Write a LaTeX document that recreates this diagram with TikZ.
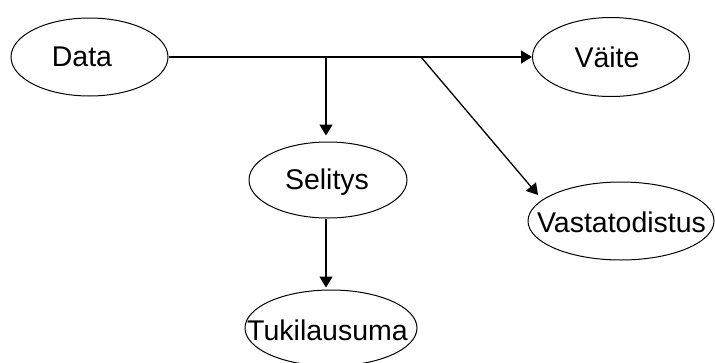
\documentclass[tikz,border=0pt]{standalone}
\usepackage{fontspec}
\setmainfont{Liberation Sans}
\usetikzlibrary{shapes.geometric,arrows.meta}

\tikzset{
  bubble/.style={ellipse, draw=black, line width=1pt, inner sep=0pt},
  caption/.style={inner sep=0pt, font=\fontsize{28.5}{34}\selectfont},
  link/.style={draw=black, line width=1.3pt},
  linkarrow/.style={link, -{Triangle[length=11pt,width=13pt]}},
}

\begin{document}
\begin{tikzpicture}[x=1pt,y=1pt]
  \useasboundingbox (0,0) rectangle (715,-362);

  % statement outlines
  \node[bubble, minimum width=157, minimum height=78] (data)    at (89.5,-57) {};
  \node[bubble, minimum width=157, minimum height=79] (vaite)   at (611,-57)  {};
  \node[bubble, minimum width=158, minimum height=76] (selitys) at (328,-180) {};
  \node[bubble, minimum width=172, minimum height=76] (tuki)    at (331,-328) {};
  \node[bubble, minimum width=186, minimum height=78] (vasta)   at (621,-221) {};

  % statement texts
  \node[caption] (data-t)    at (82,-57)    {Data};
  \node[caption] (vaite-t)   at (607,-57)   {Väite};
  \node[caption] (selitys-t) at (327,-182)  {Selitys};
  \node[caption] (tuki-t)    at (327.5,-330) {Tukilausuma};
  \node[caption] (vasta-t)   at (621.5,-222) {Vastatodistus};

  % branch points on the main line and the end of the slanted arrow
  \coordinate (j1) at (326,-57);
  \coordinate (j2) at (421,-57);
  \coordinate (vtip) at (538,-195);

  % connectors
  \draw[linkarrow] (data.east) -- (vaite.west);
  \draw[linkarrow, shorten >=6pt] (j1) -- (j1 |- selitys.north);
  \draw[linkarrow, shorten >=2pt] (j1 |- selitys.south) -- (j1 |- tuki.north);
  \draw[linkarrow] (j2) -- (vtip);
\end{tikzpicture}
\end{document}
